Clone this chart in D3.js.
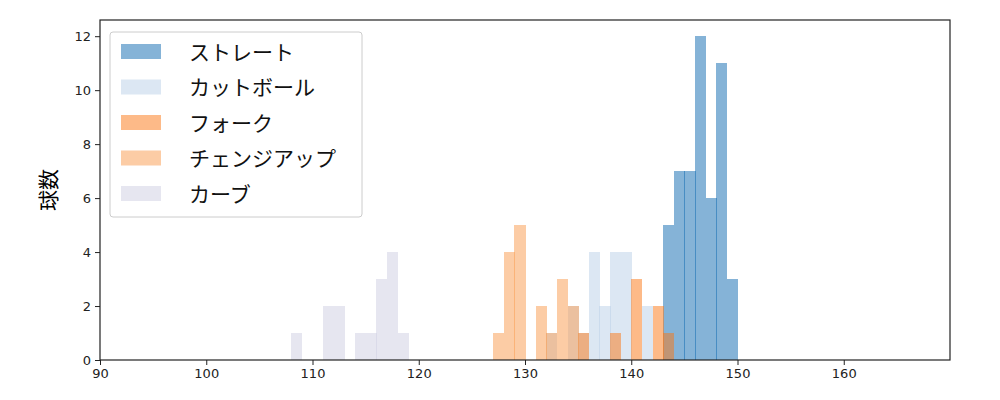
<!DOCTYPE html><html><head><meta charset="utf-8">
<script src="https://cdn.jsdelivr.net/npm/d3@7"></script>
<style>body{margin:0;background:#fff}text{font-family:"Noto Sans CJK JP",sans-serif}</style></head><body>
<svg id="c" width="1000" height="400"></svg>
<script>
const seriesNames=["ストレート","カットボール","フォーク","チェンジアップ","カーブ"];
const colors=["#0b67af","#b9cfe7","#fb7511","#f9994b","#cdcde1"];
const straightBins=[143,144,145,146,147,148,149], straightCounts=[5,7,7,12,6,11,3];
const cutterBins=[132,134,135,136,137,138,139,141], cutterCounts=[1,2,1,4,2,4,4,2];
const forkBins=[135,138,140,142,143], forkCounts=[1,1,3,2,1];
const changeupBins=[127,128,129,131,132,133,134], changeupCounts=[1,4,5,2,1,3,2];
const curveBins=[108,111,112,114,115,116,117,118], curveCounts=[1,2,2,1,1,3,4,1];
const xTicks=[90,100,110,120,130,140,150,160], yTicks=[0,2,4,6,8,10,12];
const series=[[straightBins,straightCounts],[cutterBins,cutterCounts],[forkBins,forkCounts],[changeupBins,changeupCounts],[curveBins,curveCounts]];
const svg=d3.select("#c");
const x=d3.scaleLinear().domain([90,170]).range([100,950]);
const y=d3.scaleLinear().domain([0,12.6]).range([360,20]);
series.forEach(([b,c],i)=>{
 svg.append("g").attr("shape-rendering","crispEdges").selectAll("rect").data(b.map((v,j)=>[v,c[j]])).join("rect")
  .attr("x",d=>x(d[0])).attr("width",d=>x(d[0]+1)-x(d[0])+0.5).attr("y",d=>y(d[1])).attr("height",d=>y(0)-y(d[1]))
  .attr("fill",colors[i]).attr("fill-opacity",0.5);
});
svg.append("rect").attr("x",100).attr("y",20).attr("width",850).attr("height",340).attr("fill","none").attr("stroke","#222").attr("stroke-width",1.2);
const xa=svg.append("g").attr("transform","translate(0,360)").call(d3.axisBottom(x).tickValues(xTicks).tickSize(5).tickPadding(4));
const ya=svg.append("g").attr("transform","translate(100,0)").call(d3.axisLeft(y).tickValues(yTicks).tickSize(5).tickPadding(4));
[xa,ya].forEach(a=>{a.select(".domain").remove();a.selectAll("text").attr("font-size",13).attr("fill","#222").style("font-family","DejaVu Sans");a.selectAll("line").attr("stroke","#222");});
svg.append("text").attr("transform","translate(56,190) rotate(-90)").attr("text-anchor","middle").attr("font-size",21).text("球数");
const lg=svg.append("g");
lg.append("rect").attr("x",110).attr("y",32).attr("width",252).attr("height",185).attr("rx",3).attr("fill","#fff").attr("fill-opacity",0.8).attr("stroke","#ccc");
seriesNames.forEach((n,i)=>{
 const yy=52+i*35.5;
 lg.append("rect").attr("x",121).attr("y",yy-8).attr("width",40).attr("height",15).attr("fill",colors[i]).attr("fill-opacity",0.5);
 lg.append("text").attr("x",189).attr("y",yy+7.5).attr("font-size",21).attr("fill","#111").text(n);
});
</script></body></html>
